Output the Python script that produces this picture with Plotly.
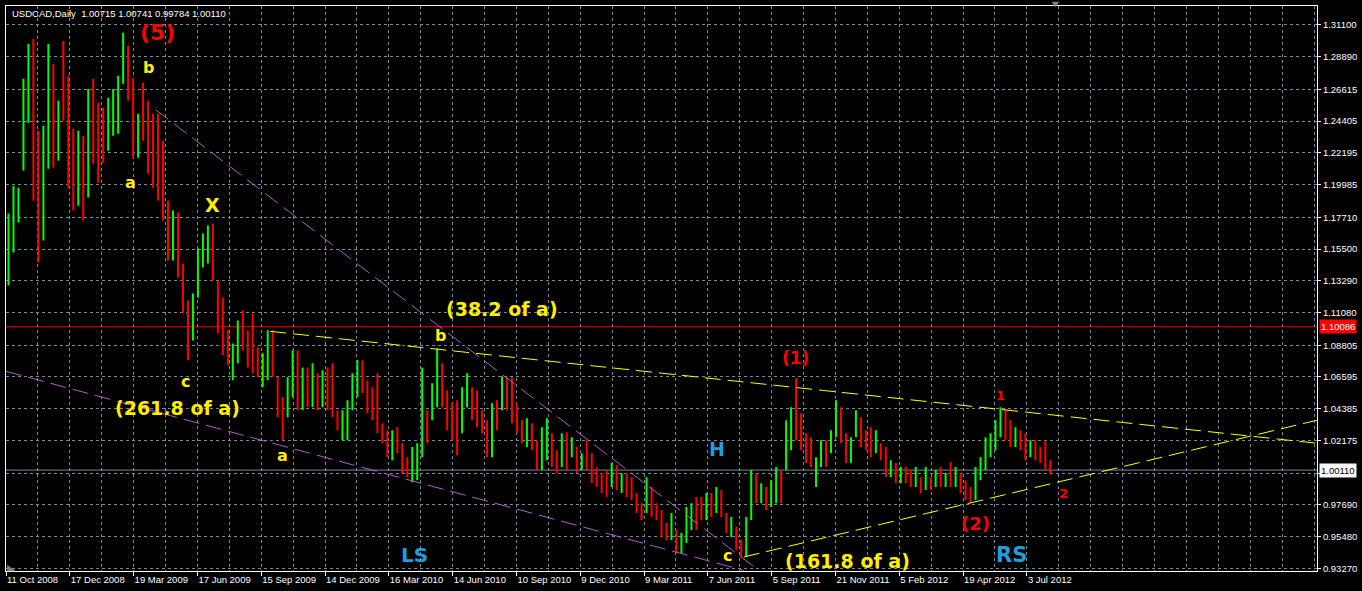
import numpy as np
import plotly.graph_objects as go

title_text = "USDCAD,Daily  1.00715 1.00741 0.99784 1.00110"

# weekly aggregated bars (5 trading days each)
opens = [
    1.1435, 1.1609, 1.1783, 1.2130, 1.2513, 1.2964, 1.2304, 1.1679, 1.2165, 1.2791,
    1.2235, 1.2930, 1.2652, 1.2235, 1.1957, 1.2235, 1.1957, 1.2686, 1.2513, 1.2443,
    1.2304, 1.2374, 1.2408, 1.2735, 1.2930, 1.2686, 1.2235, 1.2652, 1.2513, 1.2304,
    1.2374, 1.2235, 1.1852, 1.1540, 1.1748, 1.1401, 1.1123, 1.0984, 1.1262, 1.1470,
    1.1505, 1.1679, 1.1296, 1.1157, 1.0949, 1.0706, 1.0810, 1.1088, 1.0949, 1.1067,
    1.0810, 1.0636, 1.0706, 1.0949, 1.0636, 1.0462, 1.0428, 1.0601, 1.0775, 1.0497,
    1.0671, 1.0532, 1.0636, 1.0497, 1.0692, 1.0706, 1.0414, 1.0289, 1.0289, 1.0462,
    1.0567, 1.0761, 1.0601, 1.0553, 1.0650, 1.0323, 1.0275, 1.0115, 1.0289, 1.0177,
    1.0080, 1.0011, 1.0011, 1.0150, 1.0393, 1.0393, 1.0497, 1.0720, 1.0532, 1.0441,
    1.0462, 1.0303, 1.0497, 1.0567, 1.0532, 1.0407, 1.0344, 1.0150, 1.0462, 1.0462,
    1.0636, 1.0622, 1.0462, 1.0344, 1.0219, 1.0323, 1.0184, 1.0066, 1.0136, 1.0247,
    1.0136, 1.0066, 1.0247, 1.0136, 1.0150, 1.0046, 1.0191, 1.0108, 1.0011, 0.9969,
    0.9983, 0.9927, 1.0011, 0.9872, 0.9969, 0.9941, 0.9830, 0.9767, 0.9747, 0.9872,
    0.9767, 0.9719, 0.9622, 0.9559, 0.9573, 0.9469, 0.9538, 0.9629, 0.9802, 0.9802,
    0.9698, 0.9830, 0.9747, 0.9844, 0.9698, 0.9573, 0.9594, 0.9510, 0.9441, 0.9698,
    0.9969, 0.9816, 0.9872, 0.9788, 0.9837, 0.9983, 1.0046, 1.0184, 1.0601, 1.0386,
    1.0247, 1.0219, 0.9927, 1.0066, 1.0198, 1.0150, 1.0275, 1.0428, 1.0247, 1.0094,
    1.0275, 1.0358, 1.0275, 1.0289, 1.0150, 1.0184, 1.0157, 0.9983, 1.0039, 0.9941,
    1.0018, 0.9997, 0.9920, 0.9948, 0.9899, 0.9948, 0.9913, 1.0011, 0.9913, 1.0011,
    0.9913, 0.9969, 0.9927, 0.9872, 0.9830, 0.9969, 1.0046, 1.0136, 1.0177, 1.0275,
    1.0414, 1.0337, 1.0191, 1.0275, 1.0254, 1.0115, 1.0198, 1.0157, 1.0198, 1.0072,
]
highs = [
    1.1797, 1.1991, 1.1977, 1.2735, 1.2978, 1.3013, 1.2374, 1.2408, 1.2978, 1.2839,
    1.2582, 1.2999, 1.2756, 1.2387, 1.2374, 1.2339, 1.2665, 1.2735, 1.2568, 1.2533,
    1.2603, 1.2665, 1.2756, 1.3055, 1.2964, 1.2742, 1.2492, 1.2707, 1.2582, 1.2492,
    1.2492, 1.2304, 1.1887, 1.1818, 1.1804, 1.1449, 1.1192, 1.1241, 1.1554, 1.1658,
    1.1713, 1.1727, 1.1331, 1.1213, 1.0984, 1.0893, 1.1053, 1.1123, 1.0984, 1.1102,
    1.0866, 1.0824, 1.0984, 1.0984, 1.0657, 1.0518, 1.0657, 1.0845, 1.0845, 1.0726,
    1.0726, 1.0754, 1.0685, 1.0706, 1.0726, 1.0754, 1.0428, 1.0428, 1.0497, 1.0685,
    1.0775, 1.0775, 1.0636, 1.0587, 1.0685, 1.0337, 1.0289, 1.0289, 1.0310, 1.0198,
    1.0101, 1.0171, 1.0198, 1.0726, 1.0428, 1.0615, 1.0859, 1.0754, 1.0567, 1.0476,
    1.0497, 1.0587, 1.0685, 1.0587, 1.0567, 1.0428, 1.0358, 1.0476, 1.0497, 1.0664,
    1.0657, 1.0657, 1.0476, 1.0358, 1.0372, 1.0337, 1.0219, 1.0310, 1.0372, 1.0268,
    1.0150, 1.0268, 1.0275, 1.0240, 1.0171, 1.0129, 1.0219, 1.0129, 1.0032, 0.9990,
    1.0011, 1.0060, 1.0046, 0.9990, 0.9990, 0.9962, 0.9851, 0.9781, 0.9962, 0.9893,
    0.9781, 0.9733, 0.9642, 0.9712, 0.9594, 0.9573, 0.9754, 0.9781, 0.9823, 0.9823,
    0.9851, 0.9851, 0.9893, 0.9872, 0.9712, 0.9684, 0.9615, 0.9524, 0.9684, 1.0011,
    0.9990, 0.9920, 0.9893, 0.9941, 1.0032, 1.0011, 1.0358, 1.0448, 1.0650, 1.0407,
    1.0268, 1.0240, 1.0101, 1.0219, 1.0219, 1.0289, 1.0497, 1.0448, 1.0268, 1.0240,
    1.0428, 1.0379, 1.0289, 1.0310, 1.0289, 1.0198, 1.0171, 1.0080, 1.0060, 1.0032,
    1.0032, 1.0011, 1.0032, 0.9962, 1.0032, 0.9962, 1.0011, 1.0032, 0.9990, 1.0066,
    1.0032, 0.9990, 0.9941, 0.9893, 1.0032, 1.0101, 1.0240, 1.0268, 1.0358, 1.0448,
    1.0428, 1.0358, 1.0310, 1.0289, 1.0268, 1.0219, 1.0219, 1.0171, 1.0219, 1.0080,
]
lows = [
    1.1296, 1.1526, 1.1734, 1.2096, 1.2429, 1.1887, 1.1456, 1.1609, 1.2109, 1.2116,
    1.2165, 1.2443, 1.1977, 1.1818, 1.1852, 1.1748, 1.1908, 1.2144, 1.2012, 1.2151,
    1.2235, 1.2339, 1.2353, 1.2700, 1.2582, 1.2186, 1.2186, 1.2304, 1.2075, 1.1977,
    1.1887, 1.1748, 1.1470, 1.1470, 1.1352, 1.1102, 1.0775, 1.0914, 1.1213, 1.1421,
    1.1449, 1.1331, 1.0963, 1.0810, 1.0740, 1.0636, 1.0754, 1.0845, 1.0726, 1.0685,
    1.0657, 1.0587, 1.0636, 1.0657, 1.0379, 1.0219, 1.0379, 1.0518, 1.0428, 1.0428,
    1.0448, 1.0448, 1.0428, 1.0448, 1.0428, 1.0379, 1.0289, 1.0219, 1.0219, 1.0428,
    1.0518, 1.0546, 1.0407, 1.0358, 1.0268, 1.0198, 1.0101, 1.0080, 1.0129, 0.9990,
    0.9962, 0.9927, 0.9941, 1.0101, 1.0198, 1.0358, 1.0448, 1.0448, 1.0289, 1.0219,
    1.0115, 1.0268, 1.0448, 1.0358, 1.0310, 1.0268, 1.0101, 1.0101, 1.0289, 1.0428,
    1.0428, 1.0337, 1.0268, 1.0198, 1.0171, 1.0150, 1.0011, 1.0011, 1.0080, 1.0032,
    0.9990, 1.0032, 1.0011, 1.0101, 0.9990, 1.0011, 1.0011, 0.9920, 0.9893, 0.9851,
    0.9823, 0.9893, 0.9872, 0.9851, 0.9823, 0.9802, 0.9712, 0.9663, 0.9712, 0.9684,
    0.9663, 0.9545, 0.9524, 0.9524, 0.9434, 0.9434, 0.9503, 0.9594, 0.9594, 0.9663,
    0.9663, 0.9684, 0.9712, 0.9684, 0.9573, 0.9545, 0.9455, 0.9406, 0.9406, 0.9663,
    0.9781, 0.9781, 0.9733, 0.9754, 0.9781, 0.9781, 1.0011, 1.0150, 1.0219, 1.0150,
    1.0060, 1.0032, 0.9893, 1.0032, 1.0032, 1.0129, 1.0240, 1.0198, 1.0060, 1.0060,
    1.0240, 1.0171, 1.0150, 1.0101, 1.0129, 1.0080, 0.9962, 0.9962, 0.9920, 0.9920,
    0.9920, 0.9893, 0.9893, 0.9851, 0.9872, 0.9872, 0.9893, 0.9893, 0.9893, 0.9893,
    0.9893, 0.9851, 0.9802, 0.9781, 0.9802, 0.9941, 1.0011, 1.0101, 1.0150, 1.0240,
    1.0219, 1.0171, 1.0171, 1.0150, 1.0080, 1.0101, 1.0080, 1.0060, 1.0011, 0.9978,
]
closes = [
    1.1679, 1.1922, 1.1943, 1.2582, 1.2930, 1.2026, 1.1609, 1.2304, 1.2895, 1.2235,
    1.2513, 1.2617, 1.2096, 1.1991, 1.2235, 1.1887, 1.2582, 1.2235, 1.2165, 1.2235,
    1.2513, 1.2617, 1.2686, 1.2999, 1.2652, 1.2269, 1.2443, 1.2374, 1.2130, 1.2061,
    1.1957, 1.1818, 1.1574, 1.1783, 1.1401, 1.1157, 1.0914, 1.1192, 1.1505, 1.1609,
    1.1665, 1.1401, 1.1018, 1.0879, 1.0810, 1.0845, 1.1018, 1.0914, 1.0775, 1.0740,
    1.0692, 1.0775, 1.0949, 1.0706, 1.0428, 1.0289, 1.0601, 1.0775, 1.0497, 1.0671,
    1.0497, 1.0706, 1.0462, 1.0650, 1.0497, 1.0428, 1.0303, 1.0393, 1.0462, 1.0650,
    1.0740, 1.0580, 1.0462, 1.0393, 1.0303, 1.0219, 1.0150, 1.0254, 1.0164, 1.0025,
    0.9997, 1.0136, 1.0171, 1.0692, 1.0233, 1.0567, 1.0775, 1.0497, 1.0358, 1.0275,
    1.0184, 1.0553, 1.0636, 1.0414, 1.0358, 1.0303, 1.0136, 1.0428, 1.0323, 1.0622,
    1.0462, 1.0393, 1.0289, 1.0233, 1.0344, 1.0184, 1.0066, 1.0275, 1.0344, 1.0066,
    1.0025, 1.0233, 1.0066, 1.0219, 1.0025, 1.0108, 1.0046, 0.9955, 0.9927, 0.9886,
    0.9872, 1.0025, 0.9906, 0.9955, 0.9858, 0.9837, 0.9747, 0.9698, 0.9927, 0.9719,
    0.9698, 0.9580, 0.9552, 0.9677, 0.9469, 0.9545, 0.9719, 0.9747, 0.9649, 0.9698,
    0.9816, 0.9719, 0.9858, 0.9719, 0.9594, 0.9663, 0.9483, 0.9441, 0.9649, 0.9941,
    0.9837, 0.9899, 0.9767, 0.9913, 0.9997, 0.9830, 1.0323, 1.0414, 1.0275, 1.0184,
    1.0094, 1.0080, 1.0066, 1.0191, 1.0080, 1.0261, 1.0462, 1.0247, 1.0101, 1.0205,
    1.0400, 1.0219, 1.0177, 1.0136, 1.0261, 1.0108, 0.9997, 1.0060, 0.9955, 1.0011,
    0.9941, 0.9920, 1.0004, 0.9872, 1.0011, 0.9899, 0.9990, 0.9920, 0.9976, 0.9934,
    1.0011, 0.9872, 0.9823, 0.9816, 1.0011, 1.0080, 1.0205, 1.0240, 1.0323, 1.0428,
    1.0247, 1.0205, 1.0289, 1.0171, 1.0108, 1.0198, 1.0108, 1.0080, 1.0039, 1.0011,
]

date_labels = ["11 Oct 2008", "17 Dec 2008", "19 Mar 2009", "17 Jun 2009", "15 Sep 2009",
               "14 Dec 2009", "16 Mar 2010", "14 Jun 2010", "10 Sep 2010", "9 Dec 2010",
               "9 Mar 2011", "7 Jun 2011", "5 Sep 2011", "21 Nov 2011", "5 Feb 2012",
               "19 Apr 2012", "3 Jul 2012"]
price_tick_values = [1.31100, 1.28890, 1.26615, 1.24405, 1.22195, 1.19985, 1.17710, 1.15500,
                     1.13290, 1.11080, 1.08805, 1.06595, 1.04385, 1.02175, 0.99900, 0.97690,
                     0.95480, 0.93270]
price_tick_text = ["1.31100", "1.28890", "1.26615", "1.24405", "1.22195", "1.19985", "1.17710",
                   "1.15500", "1.13290", "1.11080", "1.08805", "1.06595", "1.04385", "1.02175",
                   "", "0.97690", "0.95480", "0.93270"]

bid_price = 1.00110
level_price = 1.10086

# trend lines: (day0, price0, day1, price1, colour)
trend_lines = [
    (150, 1.2520, 755, 0.9313, "#BA55D3"),
    (0, 1.0699, 740, 0.9313, "#BA55D3"),
    (265, 1.0977, 1315, 1.0198, "#FFFF00"),
    (740, 0.9406, 1315, 1.0358, "#FFFF00"),
]

# wave labels: (text, day, price, colour, size)
wave_labels = [
    ("(5)", 152, 1.3055, "#FF0000", 22),
    ("b", 143, 1.2811, "#FFEE00", 16),
    ("a", 125, 1.2012, "#FFEE00", 16),
    ("X", 207, 1.1859, "#FFEE00", 19),
    ("c", 180, 1.0629, "#FFEE00", 16),
    ("(261.8 of a)", 172, 1.0441, "#FFEE00", 19),
    ("a", 277, 1.0115, "#FFEE00", 16),
    ("(38.2 of a)", 498, 1.1136, "#FFEE00", 19),
    ("b", 436, 1.0949, "#FFEE00", 16),
    ("LS", 410, 0.9420, "#1E9EDB", 20),
    ("H", 713, 1.0157, "#1E9EDB", 19),
    ("c", 724, 0.9413, "#FFEE00", 16),
    ("(161.8 of a)", 844, 0.9378, "#FFEE00", 19),
    ("(1)", 792, 1.0789, "#FF0000", 17),
    ("(2)", 972, 0.9642, "#FF0000", 18),
    ("1", 998, 1.0532, "#FF0000", 13),
    ("2", 1061, 0.9851, "#FF0000", 13),
    ("RS", 1009, 0.9420, "#1E9EDB", 21),
]

DAYS_PER_BAR = 5
LABEL_STEP = 64
bar_x = np.arange(len(closes)) * DAYS_PER_BAR + DAYS_PER_BAR / 2
date_pos = [i * LABEL_STEP for i in range(len(date_labels))]

GRID = "#778899"
AXFONT = dict(family="Liberation Sans, Arial, sans-serif", size=9.5, color="#FFFFFF")

fig = go.Figure()
fig.add_trace(go.Ohlc(
    x=bar_x, open=opens, high=highs, low=lows, close=closes,
    increasing=dict(line=dict(color="#00FF00", width=2)),
    decreasing=dict(line=dict(color="#FF0000", width=2)),
    tickwidth=0.15, hoverinfo="skip", showlegend=False,
))

shapes = []
shapes.append(dict(type="line", xref="paper", x0=0, x1=1, yref="y", y0=level_price, y1=level_price,
                   line=dict(color="#FF0000", width=1), layer="below"))
shapes.append(dict(type="line", xref="paper", x0=0, x1=1, yref="y", y0=bid_price, y1=bid_price,
                   line=dict(color=GRID, width=1), layer="below"))
for x0, y0, x1, y1, col in trend_lines:
    shapes.append(dict(type="line", xref="x", yref="y", x0=x0, y0=y0, x1=x1, y1=y1,
                       line=dict(color=col, width=1, dash="16px,7px"), layer="above"))
# chart-shift markers (small grey triangles)
shapes.append(dict(type="path", xref="paper", yref="paper",
                   path="M 0.0008 -0.0005 L 0.0075 -0.0005 L 0.0008 0.011 Z",
                   fillcolor="#808080", line=dict(width=0)))
shapes.append(dict(type="path", xref="paper", yref="paper",
                   path="M 0.7975 1.0075 L 0.8035 1.0075 L 0.8005 0.998 Z",
                   fillcolor="#808080", line=dict(width=0)))

annotations = []
for txt, xd, yp, col, sz in wave_labels:
    annotations.append(dict(text=txt, x=xd, y=yp, xref="x", yref="y", showarrow=False,
                            font=dict(family="DejaVu Sans", size=sz, color=col, weight="bold"),
                            xanchor="center", yanchor="middle"))
annotations.append(dict(text=title_text, xref="paper", yref="paper", x=0.003, y=0.986,
                        xanchor="left", yanchor="middle", showarrow=False, font=AXFONT))
annotations.append(dict(text=f"{bid_price:.5f}", xref="paper", yref="y", x=1, y=bid_price,
                        xanchor="left", yanchor="middle", xshift=2, showarrow=False,
                        bgcolor="#FFFFFF", borderpad=1,
                        font=dict(family=AXFONT["family"], size=9.5, color="#000000")))
annotations.append(dict(text=f"{level_price:.5f}", xref="paper", yref="y", x=1, y=level_price,
                        xanchor="left", yanchor="middle", xshift=2, showarrow=False,
                        bgcolor="#FF0000", borderpad=1,
                        font=dict(family=AXFONT["family"], size=9.5, color="#FFFFFF")))

fig.update_layout(
    width=1362, height=591,
    margin=dict(l=5, r=42, t=5, b=20),
    paper_bgcolor="#000000", plot_bgcolor="#000000",
    shapes=shapes, annotations=annotations,
    showlegend=False,
    xaxis=dict(
        range=[0, 1315], rangeslider=dict(visible=False),
        tickmode="array", tickvals=date_pos, ticktext=date_labels,
        ticks="outside", ticklen=4, tickcolor="#FFFFFF", tickfont=AXFONT,
        ticklabelposition="outside right",
        showgrid=True, gridcolor=GRID, griddash="3px,3px", gridwidth=1,
        minor=dict(tick0=0, dtick=32, showgrid=True, gridcolor=GRID, griddash="3px,3px", ticks=""),
        showline=True, linecolor="#FFFFFF", linewidth=1, mirror=True, zeroline=False,
        fixedrange=True,
    ),
    yaxis=dict(
        range=[0.93085, 1.3242], side="right",
        tickmode="array", tickvals=price_tick_values, ticktext=price_tick_text,
        ticks="outside", ticklen=3, tickcolor="#FFFFFF", tickfont=AXFONT,
        showgrid=True, gridcolor=GRID, griddash="3px,3px", gridwidth=1,
        showline=True, linecolor="#FFFFFF", linewidth=1, mirror=True, zeroline=False,
        fixedrange=True,
    ),
)

fig.write_html(
    "out.html",
    config={"displayModeBar": False},
    post_script="document.body.style.margin='0';document.body.style.overflow='hidden';document.body.style.background='#000';",
)
